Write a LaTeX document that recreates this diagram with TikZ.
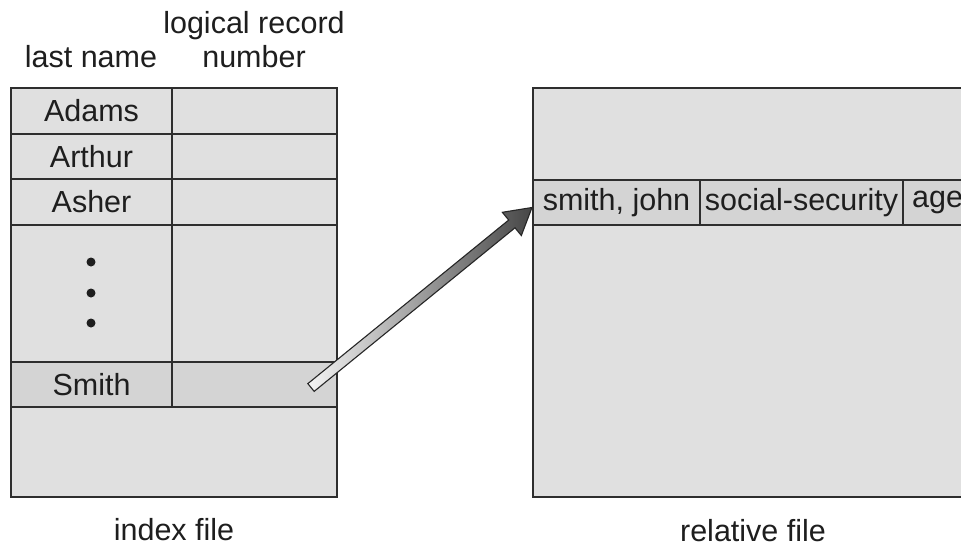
\documentclass[tikz,border=0pt]{standalone}
\usepackage{fontspec}
\setmainfont{Liberation Sans}
\usetikzlibrary{calc}
\definecolor{cellfill}{HTML}{E0E0E0}
\definecolor{rowfill}{HTML}{D4D4D4}
\definecolor{linecol}{HTML}{2E2E2E}
\definecolor{txt}{HTML}{1E1E1E}
\begin{document}
\begin{tikzpicture}[x=1pt,y=-1pt,
  every node/.style={font=\fontsize{30.5}{34}\selectfont, text=txt},
  cell/.style={draw=linecol, line width=1.5pt, fill=cellfill, anchor=north west,
    inner sep=0pt, outer sep=0pt, minimum width=#1},
  hl/.style={fill=rowfill},
  lbl/.style={anchor=base, inner sep=0pt},
  dot/.style={circle, fill=txt, inner sep=0pt, minimum size=9pt}]
\clip (0,0) rectangle (961,544);
\fill[white] (0,0) rectangle (961,544);

% headers
\node[lbl] (hlog) at (254,33) {logical record};
\node[lbl] (hnum) at (254,67) {number};
\node[lbl] (hlast) at (91,67) {last name};

% index file table
\node[cell=161pt, minimum height=46pt] (adams) at (11,88) {Adams};
\node[cell=165pt, minimum height=46pt] (adamsN) at (172,88) {};
\node[cell=161pt, minimum height=45pt] (arthur) at (11,134) {Arthur};
\node[cell=165pt, minimum height=45pt] (arthurN) at (172,134) {};
\node[cell=161pt, minimum height=46pt] (asher) at (11,179) {Asher};
\node[cell=165pt, minimum height=46pt] (asherN) at (172,179) {};
\node[cell=161pt, minimum height=137pt] (dots) at (11,225) {};
\node[cell=165pt, minimum height=137pt] (dotsN) at (172,225) {};
\node[cell=161pt, minimum height=45pt, hl] (smith) at (11,362) {Smith};
\node[cell=165pt, minimum height=45pt, hl] (smithN) at (172,362) {};
\node[cell=326pt, minimum height=90pt] (blank) at (11,407) {};
\node[dot] (d1) at (91,262) {};
\node[dot] (d2) at (91,293) {};
\node[dot] (d3) at (91,323) {};

% relative file
\node[cell=470pt, minimum height=409pt] (rel) at (533,88) {};
\node[cell=167pt, minimum height=45pt, hl] (rname) at (533,180) {smith, john};
\node[cell=203pt, minimum height=45pt, hl] (rssn) at (700,180) {social-security};
\node[cell=120pt, minimum height=45pt, hl] (rage) at (903,180) {};
\node[anchor=west, inner sep=0pt] (agetxt) at ([xshift=9pt]rage.west) {age};

% captions
\node[lbl] (capidx) at (174,540) {index file};
\node[lbl] (caprel) at (753,541) {relative file};

% arrow
\coordinate (atail) at ($(smithN.east)+(-26,3)$);
\coordinate (atip) at ($(rname.west)+(-1,5)$);
\coordinate (hb) at ($(atip)!26pt!(atail)$);
\shade[left color=white!92!gray, right color=gray!55!black, draw=black!85, line width=1.1pt, line join=miter]
  ($(atail)!5pt!90:(atip)$) -- ($(hb)!5pt!90:(atip)$) -- ($(hb)!15pt!90:(atip)$) -- (atip)
  -- ($(hb)!15pt!-90:(atip)$) -- ($(hb)!5pt!-90:(atip)$) -- ($(atail)!5pt!-90:(atip)$) -- cycle;
\end{tikzpicture}
\end{document}
